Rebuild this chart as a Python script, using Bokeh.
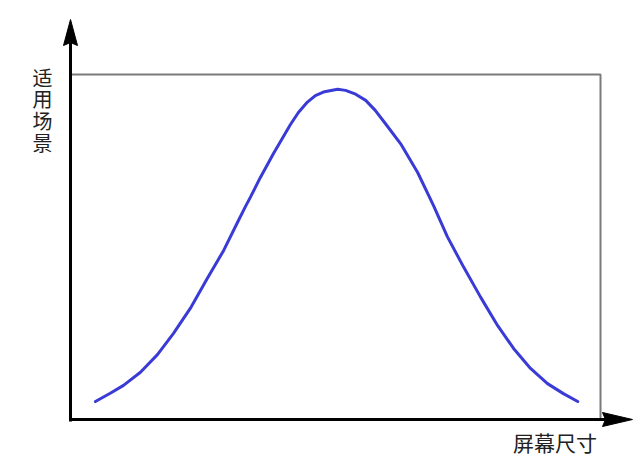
from bokeh.plotting import figure
from bokeh.models import Range1d, ColumnDataSource
from bokeh.core.properties import value
from bokeh.embed import file_html
from bokeh.resources import INLINE

# ---- data (box spans 0..10 on both axes) ----
curve_x = [0.47, 0.75, 1.00, 1.32, 1.64, 1.94, 2.26, 2.58, 2.89, 3.15, 3.30,
           3.40, 3.58, 3.83, 4.15, 4.30, 4.47, 4.62, 4.77, 5.04, 5.19, 5.38,
           5.57, 5.75, 5.94, 6.23, 6.55, 6.85, 7.11, 7.42, 7.74, 8.06, 8.36,
           8.68, 9.00, 9.30, 9.57]
curve_y = [0.52, 0.76, 0.99, 1.37, 1.88, 2.49, 3.22, 4.09, 4.90, 5.71, 6.17,
           6.46, 7.01, 7.71, 8.55, 8.90, 9.20, 9.39, 9.49, 9.57, 9.54, 9.43,
           9.25, 8.96, 8.58, 7.99, 7.16, 6.20, 5.30, 4.41, 3.54, 2.72, 2.06,
           1.48, 1.04, 0.75, 0.52]
y_label = "适\n用\n场\n景"
x_label = "屏幕尺寸"
box_min, box_max = 0, 10

# ---- layout ----
W, H = 636, 463
PX_X = 53.0     # pixels per x unit
PX_Y = 34.5     # pixels per y unit
left_px, top_px = 70, 74
x0 = -left_px / PX_X
x1 = x0 + W / PX_X
y1 = box_max + top_px / PX_Y
y0 = y1 - H / PX_Y

p = figure(width=W, height=H, output_backend="svg", toolbar_location=None,
           x_range=Range1d(x0, x1), y_range=Range1d(y0, y1),
           min_border=0, x_axis_type=None, y_axis_type=None)
p.grid.visible = False
p.outline_line_color = None
p.background_fill_color = "white"
p.border_fill_color = "white"

# box
p.quad(left=[box_min], right=[box_max], bottom=[box_min], top=[box_max],
       fill_color=None, line_color="#7a7a7a", line_width=2)

# curve
src = ColumnDataSource(dict(x=curve_x, y=curve_y))
p.line("x", "y", source=src, line_color="#3a3ad6", line_width=3,
       line_join="round", line_cap="round")

# axes with arrows
y_tip = y1 - 19 / PX_Y
x_tip = x0 + 632 / PX_X
head_len_y = 26 / PX_Y
head_len_x = 30 / PX_X
half_w_x = 7 / PX_X
half_w_y = 7 / PX_Y
notch_y = 3 / PX_Y
notch_x = 3 / PX_X
p.segment(x0=[box_min], y0=[box_min - 2 / PX_Y], x1=[box_min], y1=[y_tip - head_len_y + notch_y],
          line_color="black", line_width=3)
p.segment(x0=[box_min - 1.5 / PX_X], y0=[box_min], x1=[x_tip - head_len_x + notch_x], y1=[box_min],
          line_color="black", line_width=3)
p.patch(x=[box_min, box_min - half_w_x, box_min, box_min + half_w_x],
        y=[y_tip, y_tip - head_len_y, y_tip - head_len_y + notch_y, y_tip - head_len_y],
        fill_color="black", line_color="black", line_width=1)
p.patch(x=[x_tip, x_tip - head_len_x, x_tip - head_len_x + notch_x, x_tip - head_len_x],
        y=[box_min, box_min + half_w_y, box_min, box_min - half_w_y],
        fill_color="black", line_color="black", line_width=1)

# labels
p.text(x=[box_min - 28 / PX_X], y=[box_max + 12 / PX_Y], text=[y_label],
       text_font=value("Noto Sans CJK SC"), text_font_size="20px",
       text_color="#222222", text_align="center", text_baseline="top",
       text_line_height=0.75)
p.text(x=[box_min + 484.5 / PX_X], y=[box_min - 22 / PX_Y], text=[x_label],
       text_font=value("Noto Sans CJK SC"), text_font_size="21px",
       text_color="#222222", text_align="center", text_baseline="middle")

open("out.html", "w").write(file_html(p, INLINE))
